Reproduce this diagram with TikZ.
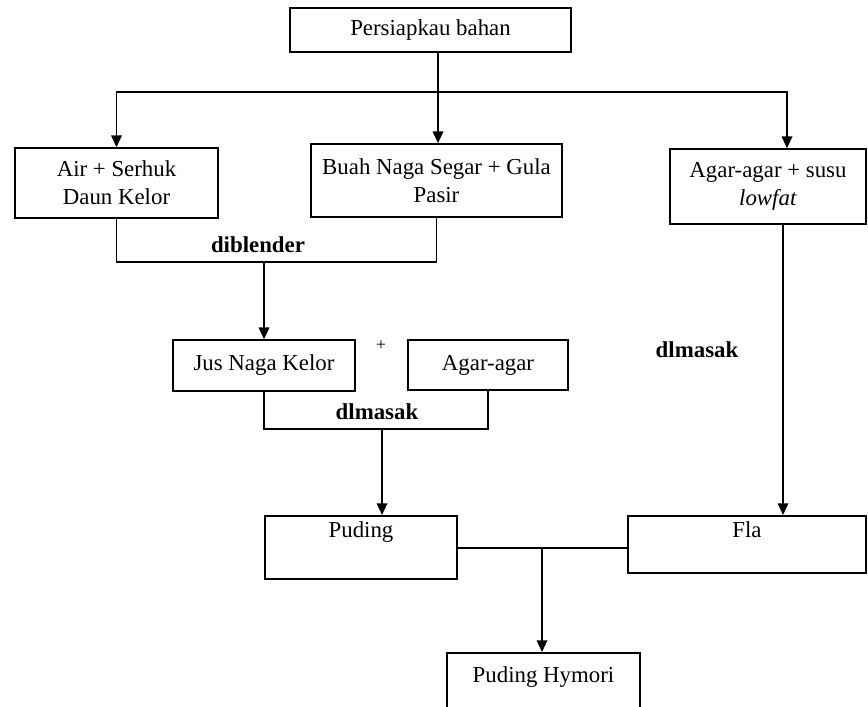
\documentclass[tikz,border=0pt]{standalone}
\usepackage{fontspec}
\setmainfont{Liberation Serif}
\usetikzlibrary{arrows.meta, positioning, calc}

\begin{document}
\begin{tikzpicture}[x=0.03cm, y=-0.03cm,
  font=\fontsize{19.5}{24}\selectfont,
  stepbox/.style={draw, line width=1.4pt, inner sep=0pt, align=center},
  link/.style={line width=1.4pt},
  flow/.style={line width=1.4pt, -{Triangle[width=9pt, length=10pt]}},
  tag/.style={font=\fontsize{19.5}{24}\selectfont\bfseries}]
  \useasboundingbox (0,0) rectangle (868,707);

  % Start
  \node[stepbox, minimum width=8.43cm, minimum height=1.32cm] (start) at (430.5,30) {Persiapkau bahan};
  \coordinate (split) at (438,92);
  \coordinate (rtop) at (787,0);

  % Ingredients
  \node[stepbox, minimum width=6.09cm, minimum height=2.1cm] (air) at (116.5,183) {Air + Serhuk\\Daun Kelor};
  \node[stepbox, minimum width=7.53cm, minimum height=2.19cm] (buah) at (436.5,180.5) {Buah Naga Segar + Gula\\Pasir};
  \node[stepbox, minimum width=5.88cm, minimum height=2.25cm] (lowf) at (768,186.5) {Agar-agar + susu\\\textit{lowfat}};

  \draw[link] (start.south -| split) -- (split);
  \draw[flow] (split) -| (air.north);
  \draw[flow] (split) -- (buah.north -| split);
  \draw[flow] (split) -| (lowf.north -| rtop);

  % Blending
  \coordinate (blend) at (264,262);
  \draw[link] (air.south) |- (blend) -| (buah.south);
  \node[tag] (lblend) at (258,245) {diblender};

  \node[stepbox, minimum width=5.46cm, minimum height=1.53cm] (jus) at (264,365.5) {Jus Naga Kelor};
  \node[stepbox, minimum width=4.8cm, minimum height=1.5cm] (agar) at (488,365) {Agar-agar};
  \node[font=\fontsize{15}{18}\selectfont] (plus) at (381,346) {+};
  \draw[flow] (blend) -- (jus.north);

  % Cooking
  \coordinate (cook) at (382,429);
  \draw[link] (jus.south) |- (cook) -| (agar.south);
  \node[tag] (lcook) at (377,412) {dlmasak};

  \node[stepbox, minimum width=5.76cm, text height=0.66cm, text depth=1.23cm, anchor=north] (pud) at (361,515) {Puding};
  \node[stepbox, minimum width=7.14cm, text height=0.66cm, text depth=1.05cm, anchor=north] (fla) at (747,515) {Fla};
  \draw[flow] (cook) -- (pud.north -| cook);

  \coordinate (rdown) at (783,0);
  \draw[flow] (lowf.south -| rdown) -- (fla.north -| rdown);
  \node[tag] (lcook2) at (697,350) {dlmasak};

  % Result
  \coordinate (merge) at (542,548);
  \node[stepbox, minimum width=5.79cm, text height=0.9cm, text depth=1.3cm, anchor=north] (hym) at (543.5,652) {Puding Hymori};
  \draw[link] (pud.east |- merge) -- (fla.west |- merge);
  \draw[flow] (merge) -- (hym.north -| merge);
\end{tikzpicture}
\end{document}
